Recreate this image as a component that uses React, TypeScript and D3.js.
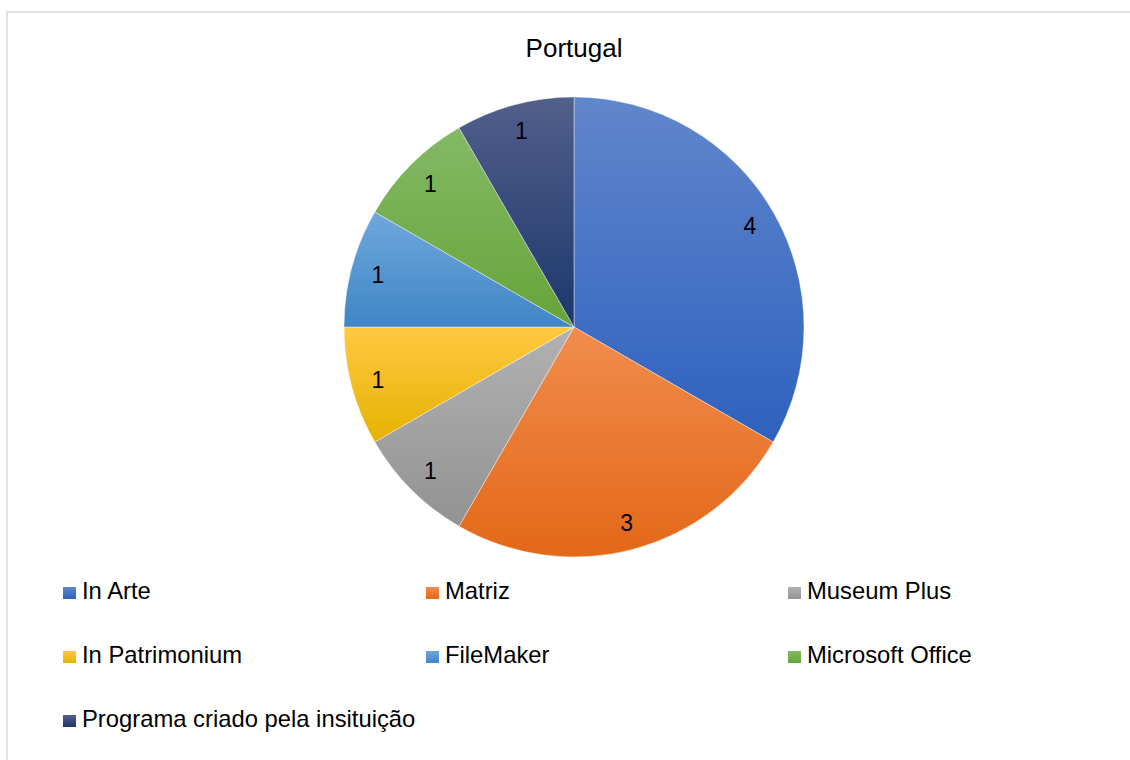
import { useRef, useEffect } from "react";
import * as d3 from "d3";

const categories = [
  "In Arte",
  "Matriz",
  "Museum Plus",
  "In Patrimonium",
  "FileMaker",
  "Microsoft Office",
  "Programa criado pela insituição",
];
const counts = [4, 3, 1, 1, 1, 1, 1];
// top / bottom colour of the per-slice gradient
const topColors = ["#6086cc", "#f18c4e", "#b2b2b2", "#ffc843", "#70a7dd", "#84b966", "#525f8b"];
const bottomColors = ["#2e61be", "#e36817", "#929292", "#e6b200", "#3f86c6", "#66a438", "#1c376c"];
const title = "Portugal";

const W = 1130;
const H = 760;
const font = "'Liberation Sans', Arial, sans-serif";

export default function App() {
  const ref = useRef(null);

  useEffect(() => {
    const svg = d3.select(ref.current);
    svg.selectAll("*").remove();

    const defs = svg.append("defs");
    categories.forEach((c, i) => {
      const g = defs
        .append("linearGradient")
        .attr("id", `grad${i}`)
        .attr("x1", 0)
        .attr("y1", 0)
        .attr("x2", 0)
        .attr("y2", 1);
      g.append("stop").attr("offset", "0%").attr("stop-color", topColors[i]);
      g.append("stop").attr("offset", "100%").attr("stop-color", bottomColors[i]);
    });

    svg.append("rect").attr("width", W).attr("height", H).attr("fill", "#fff");
    // chart frame (right and bottom edges fall outside the view)
    svg
      .append("rect")
      .attr("x", 7)
      .attr("y", 12)
      .attr("width", W + 50)
      .attr("height", H + 50)
      .attr("fill", "none")
      .attr("stroke", "#dfe3e8")
      .attr("stroke-width", 2);

    svg
      .append("text")
      .attr("x", 574)
      .attr("y", 57)
      .attr("text-anchor", "middle")
      .attr("font-family", font)
      .attr("font-size", 26)
      .attr("fill", "#000")
      .text(title);

    const cx = 574;
    const cy = 327;
    const radius = 230;

    const data = categories.map((c, i) => ({ label: c, value: counts[i], i }));
    const pie = d3
      .pie<any>()
      .sort(null)
      .value((d) => d.value)(data);
    const arc = d3.arc<any>().innerRadius(0).outerRadius(radius);
    const labelArc = d3.arc<any>().innerRadius(203).outerRadius(203);

    const g = svg.append("g").attr("transform", `translate(${cx},${cy})`);

    g.selectAll("path")
      .data(pie)
      .join("path")
      .attr("d", arc)
      .attr("fill", (d) => `url(#grad${d.data.i})`)
      .attr("stroke", "#ffffff")
      .attr("stroke-width", 0.4);

    g.selectAll("text")
      .data(pie)
      .join("text")
      .attr("x", (d) => labelArc.centroid(d)[0])
      .attr("y", (d) => labelArc.centroid(d)[1])
      .attr("dy", "0.36em")
      .attr("text-anchor", "middle")
      .attr("font-family", font)
      .attr("font-size", 23)
      .attr("fill", "#000")
      .text((d) => d.data.value);

    // legend: 3 columns
    const colX = [63, 426, 788];
    const rowY = [599, 663, 727];
    const legend = svg.append("g");
    categories.forEach((c, i) => {
      const x = colX[i % 3];
      const y = rowY[Math.floor(i / 3)];
      legend
        .append("rect")
        .attr("x", x)
        .attr("y", y - 12)
        .attr("width", 13)
        .attr("height", 12)
        .attr("fill", `url(#grad${i})`);
      legend
        .append("text")
        .attr("x", x + 19)
        .attr("y", y)
        .attr("font-family", font)
        .attr("font-size", 23.8)
        .attr("fill", "#000")
        .text(c);
    });
  }, []);

  return (
    <svg
      ref={ref}
      width={W}
      height={H}
      style={{ position: "absolute", left: 0, top: 0, display: "block" }}
    ></svg>
  );
}
